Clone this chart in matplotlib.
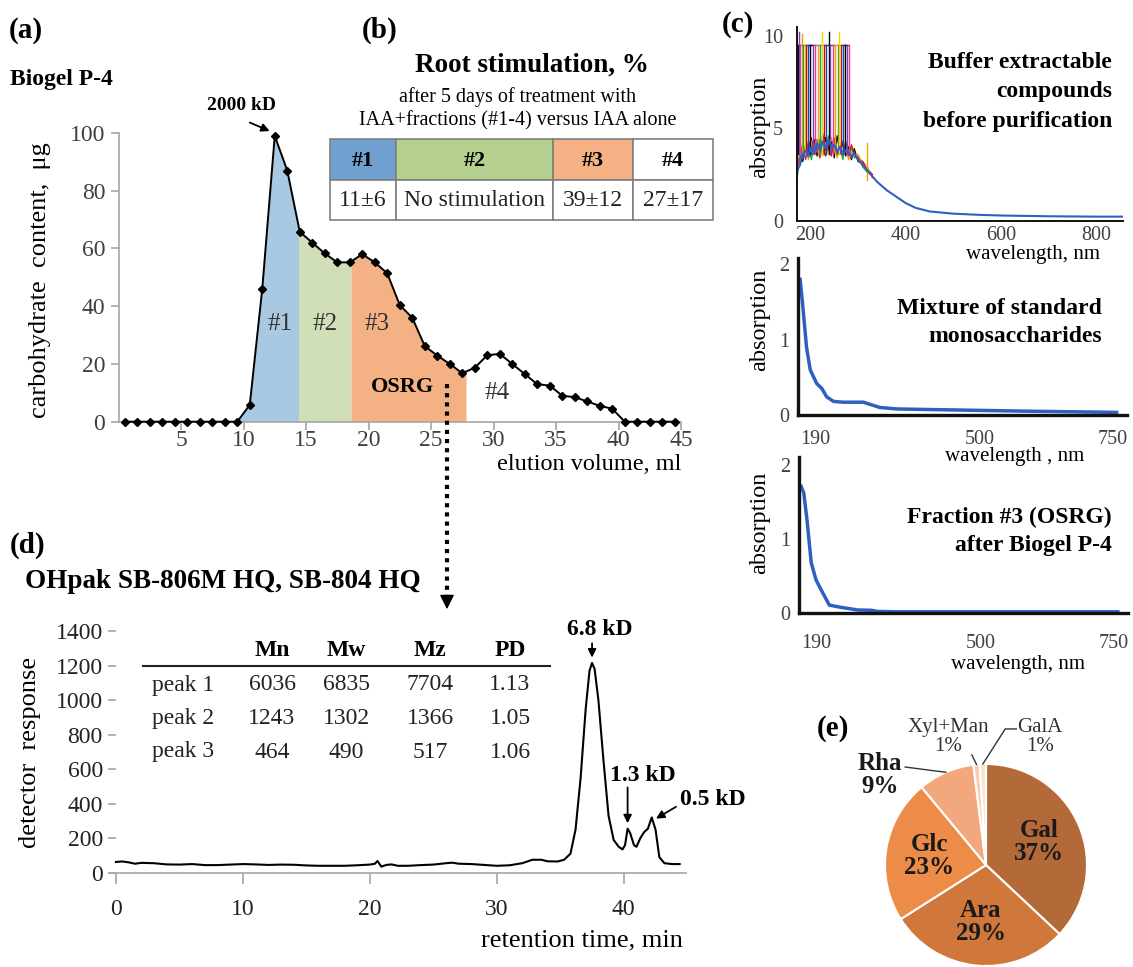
import numpy as np
import matplotlib.pyplot as plt

plt.rcParams['font.family'] = ['Liberation Serif', 'DejaVu Serif']

W, H = 1133, 967

# (a) Biogel P-4 elution profile
elution_ml = [0.5, 1.5, 2.5, 3.5, 4.5, 5.5, 6.5, 7.5, 8.5, 9.5,
              10.5, 11.5, 12.5, 13.5, 14.5, 15.5, 16.5, 17.5, 18.5, 19.5,
              20.5, 21.5, 22.5, 23.5, 24.5, 25.5, 26.5, 27.5, 28.5, 29.5,
              30.5, 31.5, 32.5, 33.5, 34.5, 35.5, 36.5, 37.5, 38.5, 39.5,
              40.5, 41.5, 42.5, 43.5, 44.5]
carb_ug = [0, 0, 0, 0, 0, 0, 0, 0, 0, 0,
           5.8, 46, 99, 87, 65.8, 62, 58.3, 55.2, 55.2, 58,
           55.2, 51.4, 40.4, 36, 26.2, 22.9, 20, 16.8, 18.7, 23,
           23.5, 20, 16.5, 13, 12.5, 9, 8.5, 7, 5.5, 4.5,
           0, 0, 0, 0, 0]
fraction_bounds = [(9.5, 14.4), (14.4, 18.6), (18.6, 27.8)]
fraction_colors = ['#a9c8e1', '#d0dfb8', '#f4b183']

# (b) root stimulation table
stim_fractions = ['#1', '#2', '#3', '#4']
stim_values = ['11±6', 'No stimulation', '39±12', '27±17']
stim_colors = ['#70a0d0', '#b5cf8f', '#f5b184', 'white']

# (c) UV spectra, buffer extract (noisy region traces + smooth tail)
noisy_nm = [172, 178, 184, 190, 196, 202, 208, 214, 220, 226, 232, 238, 244,
            250, 256, 262, 268, 274, 280, 286, 292, 300, 310, 320, 330]
noisy_traces = {
    'black':   [2.4, 3.6, 3.2, 4.1, 3.4, 3.9, 4.4, 3.5, 4.2, 3.6, 4.5, 3.8, 4.3, 3.4, 4.6, 3.7, 4.2, 3.5, 4.0, 3.3, 3.9, 3.2, 3.1, 2.7, 2.4],
    '#00b050': [2.1, 3.9, 3.4, 3.6, 4.3, 3.3, 4.0, 4.4, 3.6, 4.1, 3.5, 4.6, 3.7, 4.2, 3.5, 4.1, 3.3, 4.3, 3.6, 3.9, 3.4, 3.5, 2.9, 2.6, 2.5],
    '#e00000': [2.8, 3.3, 4.2, 3.5, 3.9, 4.5, 3.6, 4.0, 3.4, 4.7, 3.8, 4.1, 3.5, 4.4, 3.8, 3.6, 4.3, 3.7, 3.5, 4.1, 3.6, 3.4, 3.2, 2.8, 2.5],
    '#ff9900': [2.5, 3.5, 3.7, 4.0, 3.3, 4.1, 3.7, 4.3, 3.9, 3.5, 4.2, 3.6, 4.5, 3.9, 3.4, 4.2, 3.6, 3.9, 3.3, 3.7, 3.5, 3.6, 3.0, 2.9, 2.3],
    '#8040b0': [2.9, 3.4, 3.9, 3.3, 4.2, 3.6, 4.1, 3.7, 4.4, 3.8, 3.5, 4.3, 3.9, 4.5, 3.6, 3.9, 3.7, 4.0, 3.8, 3.4, 3.7, 3.3, 3.1, 2.7, 2.4],
}
buffer_nm = noisy_nm + [340, 360, 380, 400, 420, 450, 500, 550, 600, 650, 700, 750, 800, 855]
buffer_abs = [2.7, 3.0, 3.6, 3.8, 3.5, 4.0, 3.7, 4.2, 3.8, 4.3, 3.9, 4.4, 4.0,
              4.1, 3.7, 4.0, 3.6, 3.8, 3.7, 3.5, 3.6, 3.3, 3.0, 2.7, 2.4,
              2.1, 1.65, 1.3, 0.95, 0.7, 0.5, 0.38, 0.32, 0.28, 0.26, 0.24, 0.23, 0.22, 0.22]
spike_nm = [174, 176, 179, 182, 185, 188, 191, 195, 200, 205, 210, 215, 221, 225,
            229, 233, 238, 242, 247, 252, 257, 260, 264, 268, 272, 276, 280]
spike_top = [9.5, 10.2, 9.5, 10.1, 9.5, 9.5, 9.5, 9.5, 9.5, 9.5, 9.5, 9.5, 9.5, 10.2,
             9.5, 9.5, 10.2, 9.5, 9.5, 9.5, 9.5, 10.2, 9.5, 9.5, 9.5, 9.5, 9.5]
spike_colors = ['black', '#8040b0', '#e040a0', '#ff9900', '#00b050', '#ffd000', '#e00000', '#0050c0']

# (c) standard monosaccharides and fraction #3
mix_nm = [162, 167, 174, 181, 193, 203, 212, 225, 243, 281, 294, 312, 344, 469, 594, 757]
mix_abs = [1.80, 1.45, 0.90, 0.60, 0.42, 0.35, 0.24, 0.18, 0.17, 0.17, 0.14, 0.10, 0.08, 0.065, 0.05, 0.035]
osrg_nm = [162, 167, 173, 181, 190, 203, 215, 237, 268, 294, 306, 344, 757]
osrg_abs = [1.71, 1.62, 1.26, 0.68, 0.45, 0.27, 0.11, 0.08, 0.045, 0.04, 0.025, 0.02, 0.02]

# (d) HPLC chromatogram
ret_min = [0, 0.5, 1, 1.5, 2, 3, 4, 5, 6, 7, 8, 9, 10, 11, 12, 13, 14, 15, 16, 17, 18, 19,
           20, 20.4, 20.6, 20.9, 21.3, 21.7, 22.2, 23, 24, 25, 26, 26.5, 27, 28, 29, 30, 31, 32,
           32.8, 33.5, 34, 34.8, 35.3, 35.8, 36.2, 36.6, 37, 37.3, 37.5, 37.7, 38, 38.4, 38.8,
           39.2, 39.6, 39.9, 40.1, 40.3, 40.5, 40.8, 41, 41.3, 41.6, 41.9, 42.2, 42.5, 42.8,
           43.2, 43.8, 44.4]
det_resp = [62, 65, 60, 52, 57, 55, 48, 47, 50, 44, 44, 47, 50, 48, 45, 47, 46, 42, 40, 40, 40, 43,
            47, 52, 68, 35, 45, 48, 40, 40, 44, 47, 55, 58, 52, 50, 45, 40, 43, 55,
            75, 75, 66, 65, 75, 110, 250, 550, 950, 1170, 1215, 1180, 1000, 650, 330,
            190, 150, 135, 160, 255, 230, 160, 150, 200, 235, 255, 320, 250, 90,
            55, 50, 50]
mw_peaks = ['peak 1', 'peak 2', 'peak 3']
mw_cols = ['Mn', 'Mw', 'Mz', 'PD']
mw_Mn = [6036, 1243, 464]
mw_Mw = [6835, 1302, 490]
mw_Mz = [7704, 1366, 517]
mw_PD = ['1.13', '1.05', '1.06']
peak_labels = ['6.8 kD', '1.3 kD', '0.5 kD']

# (e) monosaccharide composition
sugars = ['Gal', 'Ara', 'Glc', 'Rha', 'Xyl+Man', 'GalA']
sugar_pct = [37, 29, 23, 9, 1, 1]
sugar_colors = ['#b46a38', '#d0773c', '#ed8c48', '#f2a77c', '#f8ceb2', '#fbe2cf']


def box(l, t, r, b):
    return [l / W, 1 - b / H, (r - l) / W, (b - t) / H]


fig = plt.figure(figsize=(W / 100, H / 100), dpi=100)
TICK = '#404040'

# ---------- (a) ----------
axa = fig.add_axes(box(118.5, 133, 681, 421.7))
axa.set_facecolor('none')
for (lo, hi), c in zip(fraction_bounds, fraction_colors):
    xs = [lo] + [x for x in elution_ml if lo < x < hi] + [hi]
    ys = np.interp(xs, elution_ml, carb_ug)
    axa.fill_between(xs, ys, 0, color=c, lw=0)
axa.plot(elution_ml, carb_ug, color='black', lw=1.4, marker='D', ms=4, clip_on=False, zorder=3)
axa.set_xlim(0, 45)
axa.set_ylim(0, 100)
axa.set_xticks(range(5, 50, 5))
axa.set_yticks(range(0, 101, 20))
for s in ['top', 'right']:
    axa.spines[s].set_visible(False)
for s in ['left', 'bottom']:
    axa.spines[s].set_color('#a6a6a6')
    axa.spines[s].set_linewidth(1.2)
axa.tick_params(colors='#a6a6a6', labelcolor=TICK, labelsize=17, length=6, width=1.2)
axa.tick_params(axis='x', pad=0)
for lbl, (x, y) in zip(stim_fractions, [(12.9, 34), (16.5, 34), (20.7, 34), (30.3, 10)]):
    axa.text(x, y, lbl, ha='center', va='center', fontsize=18, color='#333333')
axa.text(22.7, 12.1, 'OSRG', ha='center', va='center', fontsize=16, fontweight='bold')
ipk = int(np.argmax(carb_ug))
axa.annotate('', xy=(elution_ml[ipk] - 0.2, carb_ug[ipk] + 1.3), xytext=(10.3, 104),
             arrowprops=dict(arrowstyle='-|>', color='black', lw=1.3, mutation_scale=12),
             annotation_clip=False)
axa.text(9.8, 109.5, '2000 kD', ha='center', va='center', fontsize=14, fontweight='bold')

# ---------- (c) spectra ----------
axc1 = fig.add_axes(box(797, 26.7, 1123, 220.7))
axc1.set_facecolor('none')
for col, vals in noisy_traces.items():
    axc1.plot(noisy_nm, vals, color=col, lw=0.9)
for i, (nm, top) in enumerate(zip(spike_nm, spike_top)):
    c = spike_colors[i % len(spike_colors)]
    axc1.plot([nm, nm], [3.6, top], color=c, lw=1.0)
    if i + 1 < len(spike_nm):
        axc1.plot([nm, spike_nm[i + 1]], [9.5, 9.5], color=c, lw=1.0)
axc1.plot([318, 318], [2.2, 4.2], color='#ff9900', lw=1.0)
axc1.plot(buffer_nm, buffer_abs, color='#2f5fbf', lw=1.5)
axc1.set_xlim(172, 855)
axc1.set_ylim(0, 10.5)
axc1.set_xticks([200, 400, 600, 800])
axc1.set_yticks([0, 5, 10])

axc2 = fig.add_axes(box(798, 258.3, 1126.7, 415))
axc2.plot(mix_nm, mix_abs, color='#2f5fbf', lw=2.5)
axc2.set_xlim(158, 776)
axc2.set_ylim(0, 2.08)

axc3 = fig.add_axes(box(799, 456.7, 1128, 613.3))
axc3.plot(osrg_nm, osrg_abs, color='#2f5fbf', lw=2.5)
axc3.set_xlim(158, 776)
axc3.set_ylim(0, 2.11)

for ax, lw, pady in [(axc1, 1.4, 4), (axc2, 2.4, 11), (axc3, 2.4, 15)]:
    ax.set_facecolor('none')
    for s in ['top', 'right']:
        ax.spines[s].set_visible(False)
    for s in ['left', 'bottom']:
        ax.spines[s].set_color('#111111')
        ax.spines[s].set_linewidth(lw)
    ax.tick_params(length=0, labelsize=14.5, labelcolor=TICK)
    ax.tick_params(axis='x', pad=pady)
    ax.tick_params(axis='y', pad=10 if ax is axc1 else 6)
for ax in (axc2, axc3):
    ax.set_xticks([190, 500, 750])
    ax.set_yticks([0, 1, 2])

# ---------- (d) ----------
axd = fig.add_axes(box(110, 631, 686, 872.7))
axd.set_facecolor('none')
axd.plot(ret_min, det_resp, color='black', lw=1.5)
axd.set_xlim(-0.47, 44.9)
axd.set_ylim(0, 1400)
axd.set_xticks(range(0, 41, 10))
axd.set_yticks(range(0, 1401, 200))
for s in ['top', 'right', 'left']:
    axd.spines[s].set_visible(False)
axd.spines['left'].set_position(('data', 0))
axd.spines['bottom'].set_color('#a6a6a6')
axd.spines['bottom'].set_linewidth(1.2)
axd.tick_params(colors='#a6a6a6', labelcolor='#222222', labelsize=17, length=6, width=1.2)
axd.tick_params(axis='x', length=8, pad=11)

rt = np.array(ret_min)
dr = np.array(det_resp)
pk_idx = [int(np.argmax(dr)),
          int(np.argmax(np.where((rt > 40) & (rt < 41), dr, 0))),
          int(np.argmax(np.where((rt > 41.8) & (rt < 43), dr, 0)))]
p1, p2, p3 = [(rt[i], dr[i]) for i in pk_idx]
arrow = dict(arrowstyle='-|>', color='black', lw=1.3, mutation_scale=12)
axd.annotate('', xy=(p1[0], p1[1] + 15), xytext=(p1[0], 1345), arrowprops=arrow, annotation_clip=False)
axd.text(p1[0] + 0.6, 1410, peak_labels[0], ha='center', va='center', fontsize=17, fontweight='bold')
axd.annotate('', xy=(p2[0], p2[1] + 15), xytext=(p2[0], 510), arrowprops=arrow)
axd.text(p2[0] + 1.2, 565, peak_labels[1], ha='center', va='center', fontsize=17, fontweight='bold')
axd.annotate('', xy=(p3[0] + 0.15, p3[1] - 15), xytext=(44.3, 390), arrowprops=arrow, annotation_clip=False)
axd.text(44.4, 425, peak_labels[2], ha='left', va='center', fontsize=17, fontweight='bold')

# ---------- (e) ----------
axe = fig.add_axes(box(885, 764, 1087, 966))
wedges, _ = axe.pie(sugar_pct, colors=sugar_colors, startangle=90, counterclock=False,
                    wedgeprops=dict(edgecolor='white', linewidth=1.5))
axe.set_xlim(-1, 1)
axe.set_ylim(-1, 1)
for w, name, pct in zip(wedges[:3], sugars[:3], sugar_pct[:3]):
    ang = np.deg2rad((w.theta1 + w.theta2) / 2)
    axe.text(0.57 * np.cos(ang), 0.57 * np.sin(ang), f'{name}\n{pct}%', ha='center', va='center',
             fontsize=18, fontweight='bold', color='#1a1a1a', linespacing=1.0)


def edge_pt(w):
    ang = np.deg2rad((w.theta1 + w.theta2) / 2)
    return np.cos(ang), np.sin(ang)


rx, ry = edge_pt(wedges[3])
axe.plot([-0.80, rx], [0.97, ry], color='#333333', lw=1.0, clip_on=False)
axe.text(-1.05, 0.89, f'{sugars[3]}\n{sugar_pct[3]}%', ha='center', va='center', fontsize=18,
         fontweight='bold', color='#1a1a1a', linespacing=1.0)
xx, xy = edge_pt(wedges[4])
axe.plot([-0.14, xx], [1.09, xy], color='#333333', lw=1.0, clip_on=False)
axe.text(-0.376, 1.267, f'{sugars[4]}\n{sugar_pct[4]}%', ha='center', va='center', fontsize=15,
         color='#333333', linespacing=1.0)
gx, gy = edge_pt(wedges[5])
axe.plot([0.30, 0.19, gx], [1.347, 1.347, gy], color='#333333', lw=1.0, clip_on=False)
axe.text(0.535, 1.267, f'{sugars[5]}\n{sugar_pct[5]}%', ha='center', va='center', fontsize=15,
         color='#333333', linespacing=1.0)

# ---------- overlay: panel letters, titles, tables ----------
ov = fig.add_axes([0, 0, 1, 1])
ov.set_xlim(0, W)
ov.set_ylim(H, 0)
ov.axis('off')

for lbl, x, y in [('(a)', 26, 30), ('(b)', 380, 30), ('(c)', 738, 25), ('(d)', 28, 545), ('(e)', 833, 729)]:
    ov.text(x, y, lbl, ha='center', va='center', fontsize=21, fontweight='bold')

ov.text(10, 80, 'Biogel P-4', ha='left', va='center', fontsize=17, fontweight='bold')
ov.text(40, 280, 'carbohydrate  content,  μg', ha='center', va='center', rotation=90, fontsize=19)
ov.text(681, 465, 'elution volume, ml', ha='right', va='center', fontsize=17.5)

# (b) table
ov.text(532, 65, 'Root stimulation, %', ha='center', va='center', fontsize=19.5, fontweight='bold')
ov.text(518, 97, 'after 5 days of treatment with', ha='center', va='center', fontsize=14.5)
ov.text(518, 121, 'IAA+fractions (#1-4) versus IAA alone', ha='center', va='center', fontsize=14.5)
col_edges = [330, 396, 553.3, 632.7, 713]
row_edges = [139.3, 180, 220]
for i in range(4):
    l, r = col_edges[i], col_edges[i + 1]
    ov.add_patch(plt.Rectangle((l, row_edges[0]), r - l, row_edges[1] - row_edges[0],
                               facecolor=stim_colors[i], edgecolor='#7f7f7f', lw=1.2))
    ov.add_patch(plt.Rectangle((l, row_edges[1]), r - l, row_edges[2] - row_edges[1],
                               facecolor='white', edgecolor='#7f7f7f', lw=1.2))
    ov.text((l + r) / 2, (row_edges[0] + row_edges[1]) / 2 + 1, stim_fractions[i], ha='center',
            va='center', fontsize=16, fontweight='bold')
    ov.text((l + r) / 2, (row_edges[1] + row_edges[2]) / 2 + 1, stim_values[i], ha='center',
            va='center', fontsize=17, color='#222222')

# dotted link OSRG -> (d)
ov.plot([447, 447], [384, 598], color='black', lw=3, ls=(0, (1, 1.2)))
ov.annotate('', xy=(447, 612), xytext=(447, 596),
            arrowprops=dict(arrowstyle='-|>', color='black', lw=1, mutation_scale=22))

# (c) texts
for lines, x, y0 in [(['Buffer extractable', 'compounds', 'before purification'], 1112, 63),
                     (['Mixture of standard', 'monosaccharides'], 1102, 308),
                     (['Fraction #3 (OSRG)', 'after Biogel P-4'], 1112, 517)]:
    for k, t in enumerate(lines):
        ov.text(x, y0 + 29 * k, t, ha='right', va='center', fontsize=17, fontweight='bold')
for y in [127, 320, 523]:
    ov.text(760, y, 'absorption', ha='center', va='center', rotation=90, fontsize=17.5)
ov.text(1033, 255, 'wavelength, nm', ha='center', va='center', fontsize=15)
ov.text(1015, 457, 'wavelength , nm', ha='center', va='center', fontsize=15)
ov.text(1018, 665, 'wavelength, nm', ha='center', va='center', fontsize=15)

# (d) texts
ov.text(25, 582, 'OHpak SB-806M HQ, SB-804 HQ', ha='left', va='center', fontsize=19.5, fontweight='bold')
ov.text(30, 752, 'detector  response', ha='center', va='center', rotation=90, fontsize=19)
ov.text(683, 940, 'retention time, min', ha='right', va='center', fontsize=19)
col_x = [272, 346, 430, 510]
for x, name in zip(col_x, mw_cols):
    ov.text(x, 651, name, ha='center', va='center', fontsize=17, fontweight='bold')
ov.plot([143, 550], [666, 666], color='#222222', lw=1.5)
for k, name in enumerate(mw_peaks):
    y = 685 + 33.5 * k
    ov.text(152, y, name, ha='left', va='center', fontsize=17, color='#222222')
    for x, v in zip(col_x, [mw_Mn[k], mw_Mw[k], mw_Mz[k], mw_PD[k]]):
        ov.text(x, y, str(v), ha='center', va='center', fontsize=17, color='#222222')

fig.savefig('out.png', dpi=100)
